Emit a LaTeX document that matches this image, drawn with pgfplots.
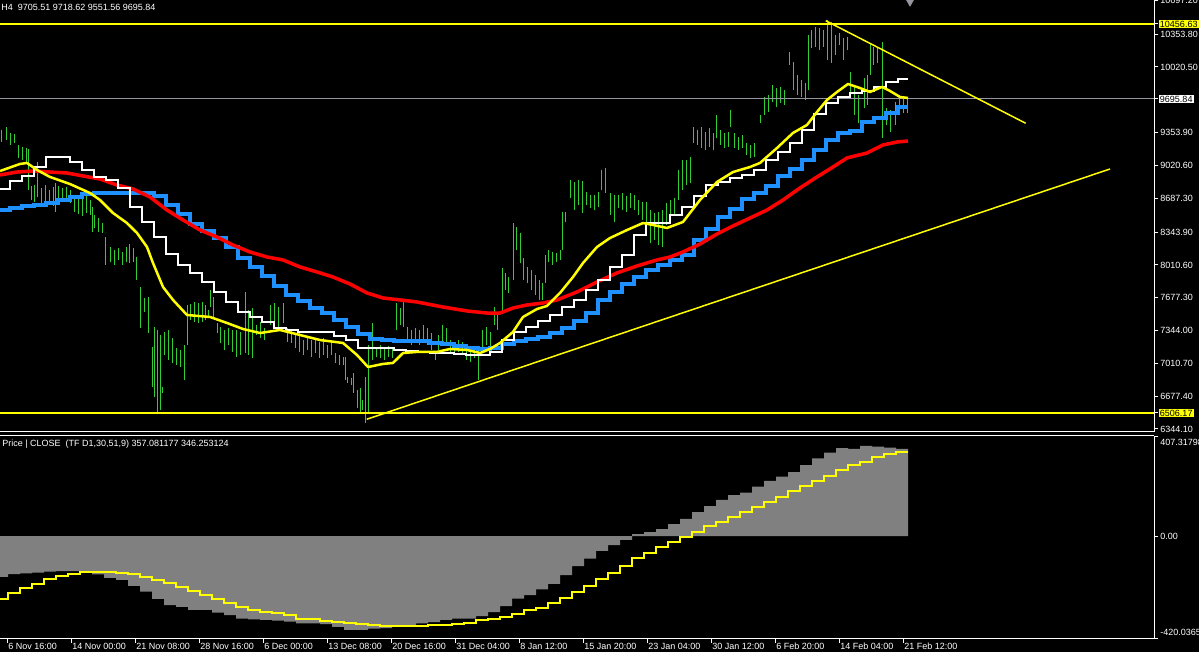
\documentclass[border=0pt]{standalone}
\usepackage{fontspec}
\setmainfont{Liberation Sans}
\usepackage{pgfplots}
\pgfplotsset{compat=1.18}
\usepackage{pgfplotstable}

\newlength\px
\setlength\px{0.75pt}
\newcommand\mtfont{\fontsize{6.75pt}{8pt}\selectfont}
\setlength\fboxsep{1.2\px}

\definecolor{mtbar}{RGB}{50,205,50}
\definecolor{mtyellow}{RGB}{255,255,0}
\definecolor{mtblue}{RGB}{30,144,255}
\definecolor{mtred}{RGB}{255,0,0}
\definecolor{mthist}{RGB}{128,128,128}
\definecolor{mtlast}{RGB}{150,150,160}

% H4 bars: x (px position), low, high
\pgfplotstableread{
x lo hi
2 9258 9380
6 9278 9410
10 9228 9350
14 9248 9339
18 9096 9228
22 9075 9207
26 9055 9197
28 8771 9187
31 8669 8811
34 8649 8821
37 8699 9055
41 8638 8791
45 8618 8821
49 8618 8771
53 8608 8801
55 8547 8842
58 8669 8811
62 8649 8791
66 8669 8801
70 8638 8771
74 8547 8699
78 8527 8689
82 8507 8699
86 8537 8720
90 8517 8669
92 8344 8598
94 8385 8517
98 8344 8486
102 8334 8435
105 8009 8293
110 8039 8192
114 8009 8161
118 8060 8182
122 8009 8141
126 8039 8192
129 8029 8222
133 8039 8182
136 7857 8090
140 7369 7786
144 7532 7674
148 7318 7684
152 6770 7176
154 6668 7379
157 6506 7349
160 6536 7298
162 6709 6770
164 7095 7329
168 7044 7349
172 7014 7268
176 6993 7166
180 6973 7146
184 6841 7197
187 7197 7603
190 7450 7613
194 7430 7633
198 7420 7623
202 7430 7633
205 7450 7603
208 7481 7552
210 7582 7755
213 7481 7684
217 7318 7420
220 7217 7379
224 7146 7349
228 7197 7369
232 7126 7349
236 7075 7349
240 7095 7329
245 7115 7735
248 7095 7552
252 7065 7572
256 7298 7400
260 7268 7430
264 7247 7369
270 7400 7603
274 7369 7623
278 7349 7582
283 7420 7623
287 7227 7369
291 7217 7349
295 7166 7298
299 7126 7318
303 7095 7247
307 7146 7278
311 7075 7247
315 7115 7247
319 7065 7227
323 7095 7268
327 7065 7197
331 7095 7217
335 7014 7115
339 6993 7095
343 6993 7075
345 6841 7075
347 6811 6872
351 6790 6861
353 6709 6912
357 6557 6740
360 6516 6760
362 6536 6638
365 6404 6872
368 6506 7197
372 7044 7420
376 7075 7176
380 7065 7197
384 7044 7176
388 7075 7186
392 7065 7166
396 7349 7623
400 7400 7572
403 7379 7633
407 7217 7379
411 7197 7349
415 7227 7369
419 7197 7349
423 7217 7400
427 7197 7369
431 7146 7318
435 7044 7115
438 7146 7298
442 7217 7400
446 7197 7369
450 7115 7247
454 7095 7217
458 7126 7247
462 7095 7227
466 7044 7176
470 7024 7166
474 7065 7176
478 6841 7146
482 7166 7349
486 7197 7379
490 7146 7329
494 7400 7582
497 7349 7532
502 7521 7978
505 7755 7928
508 7725 7887
513 7857 8435
516 8161 8395
520 8029 8334
523 7857 8080
527 7826 7989
531 7755 7958
535 7704 7907
539 7654 7857
542 7654 7826
545 7826 8110
548 8039 8161
552 8009 8141
556 8039 8131
560 8060 8161
562 8161 8547
565 8446 8547
570 8689 8872
574 8567 8852
578 8618 8872
582 8537 8862
586 8618 8750
590 8588 8720
594 8567 8720
598 8598 8750
601 8771 8974
605 8740 8994
610 8517 8740
614 8446 8720
618 8588 8720
622 8567 8740
626 8547 8710
630 8588 8740
634 8567 8720
638 8517 8669
642 8466 8649
646 8446 8649
650 8232 8567
654 8263 8537
658 8212 8547
662 8192 8567
666 8415 8638
670 8446 8669
674 8517 8689
678 8669 8974
682 8771 9075
686 8821 9075
690 8842 9106
693 9248 9410
697 9228 9380
701 9197 9410
705 9177 9360
709 9207 9400
713 9177 9350
716 9299 9532
720 9228 9380
724 9197 9350
728 9207 9360
730 9410 9583
734 9197 9350
738 9177 9309
742 9197 9329
746 9126 9248
750 9096 9228
754 9106 9248
760 9451 9532
764 9532 9715
768 9563 9735
772 9664 9837
776 9613 9806
780 9654 9817
784 9634 9786
789 10040 10172
793 9786 10070
797 9735 9938
801 9715 9888
805 9685 9857
808 9786 10345
811 10213 10395
815 10223 10426
819 10192 10416
823 10223 10395
827 10091 10497
831 10060 10477
835 10141 10345
839 10243 10365
843 10091 10314
847 10192 10324
850 9715 9969
854 9532 9817
858 9451 9735
864 9603 9908
867 9634 9938
870 9938 10263
873 10040 10223
877 10060 10213
882 9299 10273
886 9431 9603
890 9360 9583
895 9431 9664
899 9583 9735
903 9552 9725
907 9552 9719
}\pricebars

% stepped MAs (daily values held for 12 px)
\pgfplotstableread{
x v
0 8781
10 8862
22 8913
34 9004
46 9106
58 9106
70 9055
82 8974
94 8903
106 8872
118 8791
130 8598
142 8446
154 8293
166 8121
178 8009
190 7928
202 7836
214 7735
226 7633
238 7532
250 7481
262 7430
274 7369
286 7349
298 7329
310 7329
322 7329
334 7288
346 7247
358 7166
370 7166
382 7166
394 7146
406 7136
418 7126
430 7115
442 7115
454 7105
466 7095
478 7095
490 7126
502 7247
514 7329
526 7379
538 7440
550 7501
562 7582
574 7654
586 7755
598 7857
610 7989
622 8110
634 8314
646 8435
658 8435
670 8517
682 8598
694 8710
706 8821
718 8852
730 8892
742 8923
754 8974
766 9075
778 9156
790 9248
802 9380
814 9542
826 9654
838 9715
850 9756
862 9776
874 9817
886 9867
898 9898
908 9898
}\whitema

\pgfplotstableread{
x v
0 8567
10 8588
22 8608
34 8618
46 8638
58 8669
70 8699
82 8730
94 8740
106 8740
118 8740
130 8740
142 8740
154 8710
166 8618
178 8527
190 8425
202 8354
214 8283
226 8192
238 8080
250 7989
262 7897
274 7796
286 7704
298 7643
310 7572
322 7521
334 7450
346 7379
358 7308
370 7257
382 7247
394 7237
406 7237
418 7237
430 7217
442 7207
454 7186
466 7166
478 7156
490 7166
502 7207
514 7237
526 7257
538 7278
550 7318
562 7369
574 7440
586 7521
598 7654
610 7735
622 7816
634 7887
646 7958
658 8009
670 8060
682 8110
694 8263
706 8375
718 8496
730 8578
742 8679
754 8740
766 8811
778 8913
790 8984
802 9075
814 9177
826 9278
838 9350
850 9370
862 9461
874 9502
886 9552
898 9613
908 9613
}\bluema

% oscillator (TF D1): histogram and signal
\pgfplotstableread{
x h s
0 -167 -258
8 -156 -232
20 -153 -212
32 -150 -195
44 -146 -178
56 -144 -164
68 -144 -156
80 -150 -149
92 -157 -146
104 -171 -146
116 -180 -150
128 -204 -156
140 -228 -167
152 -258 -180
164 -283 -193
176 -290 -208
188 -303 -224
200 -303 -242
212 -314 -260
224 -324 -276
236 -338 -290
248 -342 -303
260 -344 -310
272 -347 -317
284 -351 -324
296 -358 -338
308 -358 -342
320 -361 -347
332 -372 -351
344 -385 -358
356 -385 -361
368 -379 -365
380 -377 -367
392 -368 -369
404 -366 -369
416 -358 -369
428 -353 -366
440 -344 -363
452 -339 -359
464 -339 -355
476 -328 -346
488 -312 -339
500 -287 -331
512 -257 -318
524 -242 -305
536 -219 -294
548 -196 -273
560 -160 -253
572 -123 -230
584 -93 -205
596 -61 -175
608 -37 -150
620 -16 -123
632 8 -92
644 16 -68
656 28 -46
668 49 -23
680 70 -3
692 98 18
704 123 41
716 148 59
728 168 79
740 178 100
752 202 118
764 226 141
776 243 161
788 262 185
800 291 205
812 318 227
824 342 247
836 360 271
848 357 291
860 369 305
872 366 325
884 362 337
896 357 346
908 357 346
}\osc

\pgfplotsset{
  mtaxis/.style={
    scale only axis, width=1154\px, xmin=0, xmax=1154,
    axis line style={draw=white, line width=1\px, -},
    tick style={draw=white, line width=1\px},
    tick align=outside, major tick length=4\px,
    tick label style={font=\mtfont, text=white},
    scaled y ticks=false,
  },
}

\begin{document}
\begin{tikzpicture}
\path[use as bounding box, fill=black] (0,0) rectangle (1199\px,652\px);

\begin{axis}[mtaxis, name=main, at={(0,220\px)}, anchor=south west,
    height=432\px, ymin=6313, ymax=10700,
    axis x line*=bottom, axis y line*=right, xtick=\empty,
    ytick={10697.2,10353.8,10020.5,9353.9,9020.6,8687.3,8343.9,8010.6,7677.3,7344.0,7010.7,6677.4,6344.1},
    yticklabels={10697.20,10353.80,10020.50,9353.90,9020.60,8687.30,8343.90,8010.60,7677.30,7344.00,7010.70,6677.40,6344.10},
    yticklabel style={anchor=base west, inner sep=0pt, xshift=2\px, yshift=-3.2\px},
    extra y ticks={10456.63,9695.84,6506.17},
    extra y tick labels={\colorbox{mtyellow}{\textcolor{black}{10456.63}},\colorbox{white}{\textcolor{black}{9695.84}},\colorbox{mtyellow}{\textcolor{black}{6506.17}}},
    extra y tick style={yticklabel style={xshift=-1.5\px}},
]
% price bars
\addplot[draw=none, mark=none,
  error bars/.cd, y dir=plus, y explicit, error mark=none,
  error bar style={draw=mtbar, line width=1\px}]
  table[x=x, y=lo, y error expr=\thisrow{hi}-\thisrow{lo}] {\pricebars};
% last price line
\addplot[mtlast, line width=1\px] coordinates {(0,9695.84) (1154,9695.84)};
% moving averages
\addplot[mtblue, line width=4\px, const plot] table[x=x, y=v] {\bluema};
\addplot[mtred, line width=3.5\px, line join=round] coordinates {
(0,8923)(17,8953)(33,8963)(50,8953)(67,8943)(83,8913)(100,8882)(117,8821)(133,8781)(150,8699)
(167,8567)(183,8466)(200,8364)(217,8293)(233,8212)(250,8141)(267,8090)(283,8060)(300,7989)(317,7938)
(333,7887)(350,7816)(367,7725)(383,7674)(400,7654)(417,7633)(443,7582)(467,7542)(487,7521)(500,7521)
(513,7572)(527,7603)(543,7623)(557,7654)(577,7735)(597,7836)(617,7928)(637,7999)(657,8060)(670,8090)
(683,8141)(700,8222)(717,8324)(733,8405)(750,8486)(767,8567)(783,8669)(800,8791)(817,8903)(833,9004)
(847,9096)(867,9146)(883,9228)(897,9258)(908,9268)};
\addplot[white, line width=2.5\px, const plot] table[x=x, y=v] {\whitema};
\addplot[mtyellow, line width=2.5\px, line join=round] coordinates {
(0,8963)(20,9035)(27,9045)(37,8974)(50,8903)(70,8831)(90,8740)(100,8669)(113,8537)(127,8435)
(137,8334)(147,8192)(153,8029)(163,7786)(173,7654)(187,7501)(210,7481)(227,7420)(243,7359)(260,7318)
(280,7349)(300,7298)(320,7247)(343,7217)(357,7095)(368,6973)(383,7004)(393,7014)(403,7115)(417,7126)
(437,7126)(450,7156)(467,7146)(480,7115)(490,7156)(500,7217)(513,7329)(523,7481)(537,7562)(547,7593)
(560,7725)(573,7887)(583,8029)(597,8192)(610,8283)(627,8364)(643,8435)(653,8415)(667,8385)(683,8446)
(700,8669)(717,8852)(733,8953)(750,9004)(760,9045)(777,9197)(793,9350)(807,9431)(817,9563)(827,9685)
(837,9766)(848,9847)(860,9806)(870,9766)(882,9817)(890,9776)(900,9715)(908,9705)};
% horizontal levels and trendlines
\addplot[mtyellow, line width=2\px] coordinates {(0,10456.63) (1154,10456.63)};
\addplot[mtyellow, line width=2\px] coordinates {(0,6506.17) (1154,6506.17)};
\addplot[mtyellow, line width=1.5\px] coordinates {(825.7,10490) (1025.7,9448)};
\addplot[mtyellow, line width=1.5\px] coordinates {(366.7,6442) (1110,8984)};
% chart shift marker
\addplot[only marks, mark=triangle*, mark size=5\px,
  mark options={rotate=180, fill=mtlast, draw=mtlast}] coordinates {(910,10688)};
\end{axis}
\node[anchor=west, inner sep=0pt, text=white, font=\mtfont]
  at ([xshift=1\px, yshift=-7.5\px]main.north west) {H4\ \ 9705.51 9718.62 9551.56 9695.84};

\begin{axis}[mtaxis, name=lower, at={(0,13\px)}, anchor=south west,
    height=203\px, ymin=-422, ymax=410,
    axis x line=box, axis y line*=right, xtick pos=left, xticklabel pos=left,
    xtick={7,71,135,199,263,327,391,455,519,583,647,711,775,839,903},
    xticklabels={6 Nov 16:00,14 Nov 00:00,21 Nov 08:00,28 Nov 16:00,6 Dec 00:00,13 Dec 08:00,20 Dec 16:00,31 Dec 04:00,8 Jan 12:00,15 Jan 20:00,23 Jan 04:00,30 Jan 12:00,6 Feb 20:00,14 Feb 04:00,21 Feb 12:00},
    xticklabel style={anchor=north west, inner sep=0pt, xshift=1\px, yshift=0pt},
    ytick={407.31798,0,-420.0365},
    yticklabels={\raisebox{-6\px}{407.31798},0.00,\raisebox{6\px}{-420.0365}},
    yticklabel style={anchor=base west, inner sep=0pt, xshift=2\px, yshift=-3.2\px},
]
\addplot[const plot, fill=mthist, draw=none] table[x=x, y=h] {\osc} \closedcycle;
\addplot[const plot, mtyellow, line width=2\px] table[x=x, y=s] {\osc};
\end{axis}
\node[anchor=west, inner sep=0pt, text=white, font=\mtfont]
  at ([xshift=2\px, yshift=-8.7\px]lower.north west) {Price | CLOSE\ \ (TF D1,30,51,9) 357.081177 346.253124};
\end{tikzpicture}
\end{document}
